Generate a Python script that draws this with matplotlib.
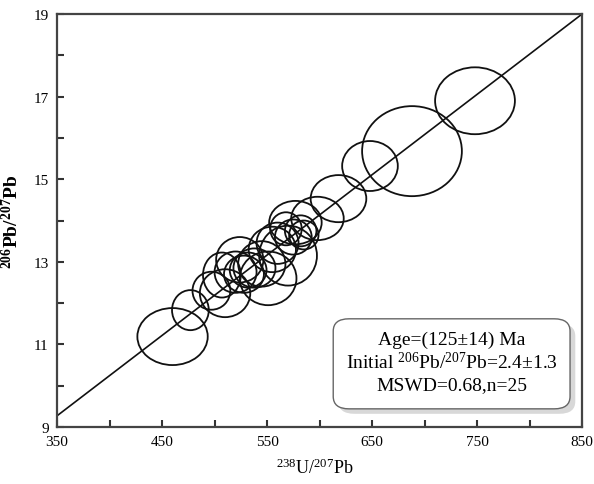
import numpy as np
from matplotlib import pyplot as plt
from matplotlib.patches import Ellipse, FancyBboxPatch

plt.rcParams['font.family'] = ['Liberation Serif', 'DejaVu Serif']
plt.rcParams['mathtext.fontset'] = 'custom'
plt.rcParams['mathtext.rm'] = 'Liberation Serif'
plt.rcParams['mathtext.it'] = 'Liberation Serif'
plt.rcParams['mathtext.bf'] = 'Liberation Serif:bold'

# error ellipses: centre (238U/207Pb, 206Pb/207Pb) and full widths
u_pb = [748, 688, 648, 618, 598, 577, 582, 575, 585, 568, 570, 555, 551,
        545, 538, 532, 528, 524, 520, 510, 507, 497, 477, 460, 560]
pb_pb = [16.90, 15.68, 15.32, 14.53, 14.05, 13.95, 13.75, 13.60, 13.65, 13.80,
         13.15, 13.30, 12.60, 12.95, 12.85, 12.80, 12.70, 13.05, 12.75, 12.24,
         12.68, 12.30, 11.83, 11.19, 13.45]
err_x = [76, 95, 53, 53, 50, 50, 30, 35, 28, 30, 55, 45, 54,
         45, 40, 35, 38, 45, 40, 48, 36, 36, 35, 67, 40]
err_y = [1.62, 2.18, 1.21, 1.14, 1.05, 1.05, 0.75, 0.85, 0.70, 0.80,
         1.45, 1.10, 1.30, 1.10, 0.95, 0.85, 0.90, 1.10, 1.00, 1.16,
         1.09, 0.92, 0.97, 1.38, 1.00]

# isochron
intercept = 2.46
slope = 0.01946
x_line = np.array([350, 850])

fig = plt.figure(figsize=(5.94, 4.85), dpi=100)
ax = fig.add_axes([0.096, 0.1175, 0.884, 0.8515])

for cx, cy, w, h in zip(u_pb, pb_pb, err_x, err_y):
    ax.add_patch(Ellipse((cx, cy), w, h, fill=False, ec='#111111', lw=1.3))

ax.plot(x_line, intercept + slope * x_line, c='#111111', lw=1.2)

ax.set_xlim(350, 850)
ax.set_ylim(9, 19)
ax.set_xticks(np.arange(350, 851, 100))
ax.set_xticks(np.arange(400, 801, 100), minor=True)
ax.set_yticks(np.arange(9, 20, 2))
ax.set_yticks(np.arange(10, 19, 2), minor=True)
ax.tick_params(which='both', direction='in', length=5, width=1.5, color='#333333',
               labelsize=11, pad=6)
for s in ax.spines.values():
    s.set_linewidth(1.6)
    s.set_color('#444444')

ax.set_xlabel(r'$^{238}$U/$^{207}$Pb', fontsize=13, labelpad=6)
ax.xaxis.set_label_coords(0.49, -0.075)
ax.set_ylabel(r'$\mathbf{^{206}}$Pb/$\mathbf{^{207}}$Pb', fontsize=14, fontweight='bold', labelpad=8)

# result box with shadow
shadow = FancyBboxPatch((0.536, 0.032), 0.451, 0.218, boxstyle='round,pad=0,rounding_size=0.03',
                        transform=ax.transAxes, fc='#d8d8d8', ec='none', zorder=4)
box = FancyBboxPatch((0.526, 0.044), 0.451, 0.218, boxstyle='round,pad=0,rounding_size=0.03',
                     transform=ax.transAxes, fc='white', ec='#666666', lw=1.0, zorder=5)
ax.add_patch(shadow)
ax.add_patch(box)
lines = ['Age=(125±14) Ma',
         r'Initial $^{206}$Pb/$^{207}$Pb=2.4±1.3',
         'MSWD=0.68,n=25']
for i, t in enumerate(lines):
    ax.text(0.7515, 0.213 - i * 0.0555, t, transform=ax.transAxes, ha='center', va='center',
            fontsize=14, zorder=6)

plt.savefig('out.png', dpi=100)
